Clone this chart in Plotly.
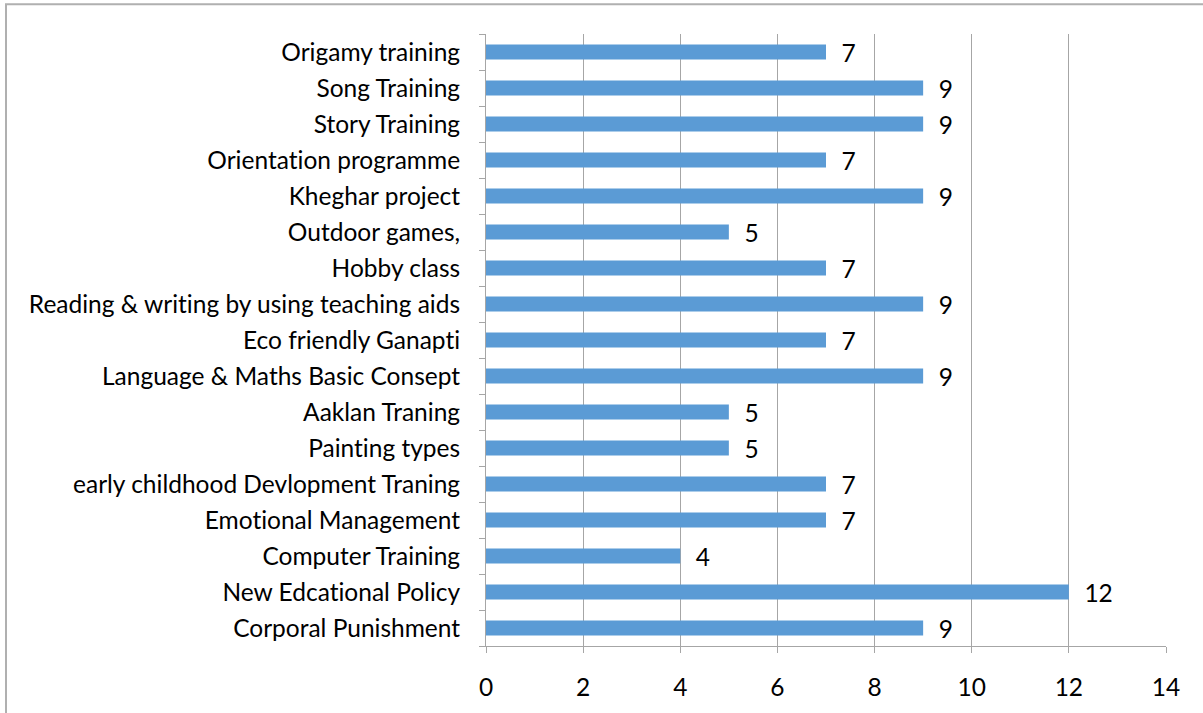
import plotly.graph_objects as go

categories = [
    "Origamy training", "Song Training", "Story Training", "Orientation programme",
    "Kheghar project", "Outdoor games,", "Hobby class",
    "Reading & writing by using teaching aids", "Eco friendly Ganapti",
    "Language & Maths Basic Consept", "Aaklan Traning", "Painting types",
    "early childhood Devlopment Traning", "Emotional Management",
    "Computer Training", "New Edcational Policy", "Corporal Punishment",
]
values = [7, 9, 9, 7, 9, 5, 7, 9, 7, 9, 5, 5, 7, 7, 4, 12, 9]
x_ticks = [0, 2, 4, 6, 8, 10, 12, 14]

W, H = 1203, 713
L, R, T, B = 486, 37, 34, 63
pw, ph = W - L - R, H - T - B
FS = 24.5

fig = go.Figure(go.Bar(
    y=categories[::-1], x=values[::-1], orientation="h",
    marker=dict(color="#5B9BD5", line=dict(width=0)),
    text=values[::-1], texttemplate="  %{x}", textposition="outside",
    cliponaxis=False, constraintext="none", hoverinfo="skip",
    textfont=dict(family="Lato", size=FS, color="#000000"),
))

fig.update_layout(
    width=W, height=H, margin=dict(l=L, r=R, t=T, b=B),
    paper_bgcolor="white", plot_bgcolor="white",
    bargap=0.58, showlegend=False,
    font=dict(family="Lato", size=FS, color="#000000"),
    xaxis=dict(range=[0, 14], tickvals=x_ticks, showgrid=True, gridcolor="#a6a6a6",
               gridwidth=1, zeroline=False, showline=True, linecolor="#a6a6a6",
               ticks="outside", ticklen=6, tickcolor="#a6a6a6", ticklabelstandoff=14),
    yaxis=dict(showline=True, linecolor="#a6a6a6", ticks="outside", ticklen=6,
               tickcolor="#a6a6a6", tickson="boundaries", showgrid=False,
               ticklabelstandoff=20),
    shapes=[dict(type="rect", xref="paper", yref="paper",
                 x0=(6 - L) / pw, x1=(1215 - L) / pw,
                 y0=(H - 725 - B) / ph, y1=(H - 4 - B) / ph,
                 line=dict(color="#b0b0b0", width=2), layer="below")],
)

post = (
    "document.body.style.margin='0px';"
    "var s=document.createElement('style');"
    "s.textContent='text{font-variant-ligatures:none !important;"
    "font-feature-settings:\"liga\" 0 !important;}';"
    "document.head.appendChild(s);"
)
fig.write_html("out.html", post_script=post, config={"displayModeBar": False})
